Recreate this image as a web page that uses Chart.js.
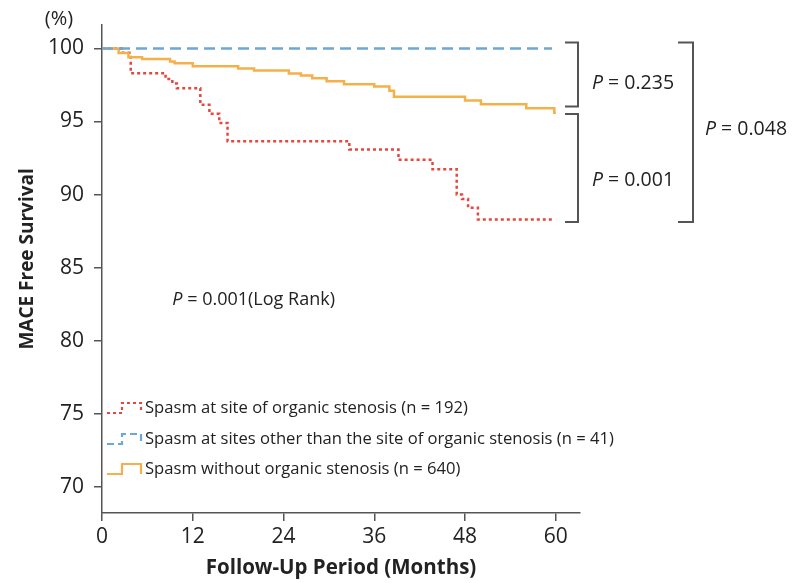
<!DOCTYPE html>
<html><head><meta charset="utf-8">
<script src="https://cdn.jsdelivr.net/npm/chart.js@4/dist/chart.umd.min.js"></script>
<style>html,body{margin:0;padding:0;background:#fff;} #wrap{width:792px;height:583px;position:relative;}</style>
</head><body><div id="wrap"><canvas id="c" width="792" height="583"></canvas></div>
<script>
// ---- data (months, % MACE-free survival) ----
const redTimes    = [0, 2.6, 3.8, 8.4, 9.3, 9.9, 13.0, 14.2, 15.5, 16.6, 32.7, 39.2, 43.7, 46.9, 47.6, 48.4, 49.7, 59.6];
const redValues   = [100, 99.7, 98.3, 97.9, 97.6, 97.28, 96.14, 95.53, 94.9, 93.65, 93.09, 92.38, 91.74, 90.0, 89.7, 89.1, 88.29, 88.29];
const blueTimes   = [0, 59.5];
const blueValues  = [100, 100];
const orangeTimes = [0, 2.2, 3.5, 5.3, 9.0, 9.6, 12.0, 18.0, 20.1, 24.7, 26.3, 27.8, 29.7, 32.0, 36.0, 38.0, 38.6, 48.0, 50.1, 56.1, 59.8, 60];
const orangeValues= [100, 99.69, 99.39, 99.28, 99.11, 98.98, 98.77, 98.63, 98.48, 98.29, 98.14, 97.95, 97.75, 97.54, 97.39, 97.11, 96.70, 96.43, 96.18, 95.90, 95.59, 95.59];
const seriesLabels = ['Spasm at site of organic stenosis (n = 192)',
                      'Spasm at sites other than the site of organic stenosis (n = 41)',
                      'Spasm without organic stenosis (n = 640)'];
const xTicks = [0, 12, 24, 36, 48, 60];
const yTicks = [70, 75, 80, 85, 90, 95, 100];
const pairP = ['0.235', '0.001', '0.048'];
const bracketTop = [100.41, 95.52, 100.41];
const bracketBottom = [96.02, 88.12, 88.12];
const logRankText = '0.001(Log Rank)';
const yTitle = 'MACE Free Survival';

const RED = '#e5473c', BLUE = '#6fa7d4', ORANGE = '#f6b04a', AXIS = '#555555', TXT = '#222222';
const FONT = "'Open Sans', sans-serif";

function pts(t, v) { return t.map((x, i) => ({x: x, y: v[i]})); }

function drawPText(ctx, x, y, val, size) {
  ctx.textBaseline = 'middle'; ctx.textAlign = 'left';
  ctx.font = 'italic ' + size + 'px ' + FONT;
  ctx.fillText('P', x, y);
  const w = ctx.measureText('P').width;
  ctx.font = size + 'px ' + FONT;
  ctx.fillText(' = ' + val, x + w, y);
}

const annot = {
  id: 'annot',
  afterDraw(chart) {
    const ctx = chart.ctx, ys = chart.scales.y, xs = chart.scales.x, ca = chart.chartArea;
    ctx.save();
    ctx.fillStyle = TXT;
    // (%)
    ctx.font = '20px ' + FONT; ctx.textAlign = 'center'; ctx.textBaseline = 'middle';
    ctx.fillText('(%)', 59, 19);
    // y title
    ctx.save();
    ctx.translate(28, ys.getPixelForValue(85.6));
    ctx.rotate(-Math.PI / 2);
    ctx.font = 'bold 19px ' + FONT; ctx.textAlign = 'center'; ctx.textBaseline = 'middle';
    ctx.fillText(yTitle, 0, 0);
    ctx.restore();
    // log rank
    drawPText(ctx, xs.getPixelForValue(9.3), ys.getPixelForValue(82.8), logRankText, 18);
    // brackets
    ctx.strokeStyle = AXIS; ctx.lineWidth = 2;
    const bx = [[ca.right - 15, ca.right - 2], [ca.right - 15, ca.right - 2], [ca.right + 98, ca.right + 113]];
    for (let i = 0; i < 3; i++) {
      const t = ys.getPixelForValue(bracketTop[i]), b = ys.getPixelForValue(bracketBottom[i]);
      ctx.beginPath();
      ctx.moveTo(bx[i][0], t); ctx.lineTo(bx[i][1], t); ctx.lineTo(bx[i][1], b); ctx.lineTo(bx[i][0], b);
      ctx.stroke();
    }
    ctx.fillStyle = TXT;
    drawPText(ctx, ca.right + 12, ys.getPixelForValue(97.57), pairP[0], 19.5);
    drawPText(ctx, ca.right + 12, ys.getPixelForValue(90.97), pairP[1], 19.5);
    drawPText(ctx, ca.right + 125, ys.getPixelForValue(94.43), pairP[2], 19.5);
    // legend
    const rows = [408, 439, 469];
    const cols = [RED, BLUE, ORANGE];
    const dashes = [[3, 3], [7, 4], []];
    for (let i = 0; i < 3; i++) {
      const cy = rows[i];
      ctx.strokeStyle = cols[i]; ctx.lineWidth = 2.2; ctx.setLineDash(dashes[i]);
      ctx.beginPath();
      ctx.moveTo(107, cy + 5); ctx.lineTo(122, cy + 5); ctx.lineTo(122, cy - 5);
      ctx.lineTo(141, cy - 5); ctx.lineTo(141, cy + 5);
      ctx.stroke();
      ctx.setLineDash([]);
      ctx.fillStyle = TXT; ctx.font = '16.6px ' + FONT; ctx.textAlign = 'left'; ctx.textBaseline = 'middle';
      ctx.fillText(seriesLabels[i], 145, cy);
    }
    ctx.restore();
  }
};

new Chart(document.getElementById('c'), {
  type: 'line',
  data: {
    datasets: [
      {label: seriesLabels[1], data: pts(blueTimes, blueValues), borderColor: BLUE, borderWidth: 2.5, borderDash: [11, 6], stepped: 'before', pointRadius: 0, fill: false},
      {label: seriesLabels[2], data: pts(orangeTimes, orangeValues), borderColor: ORANGE, borderWidth: 2.5, stepped: 'before', pointRadius: 0, fill: false},
      {label: seriesLabels[0], data: pts(redTimes, redValues), borderColor: RED, borderWidth: 2.5, borderDash: [3, 3], stepped: 'before', pointRadius: 0, fill: false}
    ]
  },
  options: {
    responsive: false, animation: false, devicePixelRatio: 1,
    layout: {padding: {left: 0, top: 25, right: 212, bottom: 0}},
    plugins: {legend: {display: false}, tooltip: {enabled: false}},
    scales: {
      x: {
        type: 'linear', min: 0, max: 63.2,
        afterBuildTicks: s => { s.ticks = xTicks.map(v => ({value: v})); },
        afterFit: s => { s.height = 70; },
        grid: {display: true, drawOnChartArea: false, drawTicks: true, tickLength: 8, color: AXIS, lineWidth: 1.5},
        border: {display: true, color: AXIS, width: 1.5},
        ticks: {color: TXT, font: {family: FONT, size: 21}, padding: 3, maxRotation: 0, autoSkip: false},
        title: {display: true, text: 'Follow-Up Period (Months)', color: TXT, font: {family: FONT, size: 20.5, weight: 'bold'}, padding: {top: 0, bottom: 3}}
      },
      y: {
        type: 'linear', min: 68.22, max: 101.6,
        afterBuildTicks: s => { s.ticks = yTicks.map(v => ({value: v})); },
        afterFit: s => { s.width = 102; },
        grid: {display: true, drawOnChartArea: false, drawTicks: true, tickLength: 8, color: AXIS, lineWidth: 1.5},
        border: {display: true, color: AXIS, width: 1.5},
        ticks: {color: TXT, font: {family: FONT, size: 21}, padding: 10},
        title: {display: false}
      }
    }
  },
  plugins: [annot]
});
</script></body></html>
